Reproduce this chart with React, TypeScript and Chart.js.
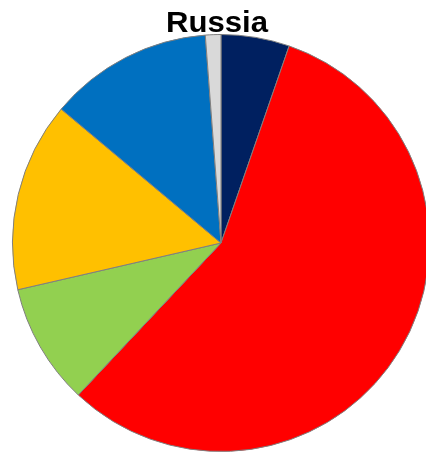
import React, { useEffect, useRef } from "react";
import { Chart, registerables } from "chart.js";

Chart.register(...registerables);

const chartTitle = "Russia";
const labels = ["Segment 1", "Segment 2", "Segment 3", "Segment 4", "Segment 5", "Segment 6"];
const values = [5.3, 56.7, 9.4, 14.7, 12.7, 1.2];
const colors = ["#002060", "#FF0000", "#92D050", "#FFC000", "#0070C0", "#D9D9D9"];

export default function App() {
  const ref = useRef<HTMLCanvasElement>(null);

  useEffect(() => {
    const canvas = ref.current;
    if (!canvas) return;

    const titlePlugin = {
      id: "customTitle",
      afterDraw(chart: any) {
        const ctx = chart.ctx as CanvasRenderingContext2D;
        ctx.save();
        ctx.font = 'bold 29px "Liberation Sans", Arial, sans-serif';
        const w = ctx.measureText(chartTitle).width;
        const sx = 102 / w;
        ctx.translate(217, 31.8);
        ctx.scale(sx, 1);
        ctx.fillStyle = "#000000";
        ctx.textAlign = "center";
        ctx.textBaseline = "alphabetic";
        ctx.fillText(chartTitle, 0, 0);
        ctx.restore();
      },
    };

    const chart = new Chart(canvas, {
      type: "pie",
      data: {
        labels,
        datasets: [
          {
            data: values,
            backgroundColor: colors,
            borderColor: "#7F7F7F",
            borderWidth: 1,
          },
        ],
      },
      options: {
        responsive: true,
        maintainAspectRatio: false,
        animation: false,
        layout: { padding: { top: 34, left: 0, right: 0, bottom: 0 } },
        plugins: {
          legend: { display: false },
          title: { display: false },
          tooltip: { enabled: false },
        },
      },
      plugins: [titlePlugin],
    });

    return () => chart.destroy();
  }, []);

  return (
    <div
      style={{
        position: "fixed",
        left: 0,
        top: 0,
        width: 426,
        height: 452,
        overflow: "hidden",
        background: "#ffffff",
      }}
    >
      <div style={{ position: "absolute", left: 0, top: 0, width: 442, height: 452 }}>
        <canvas ref={ref} />
      </div>
    </div>
  );
}
